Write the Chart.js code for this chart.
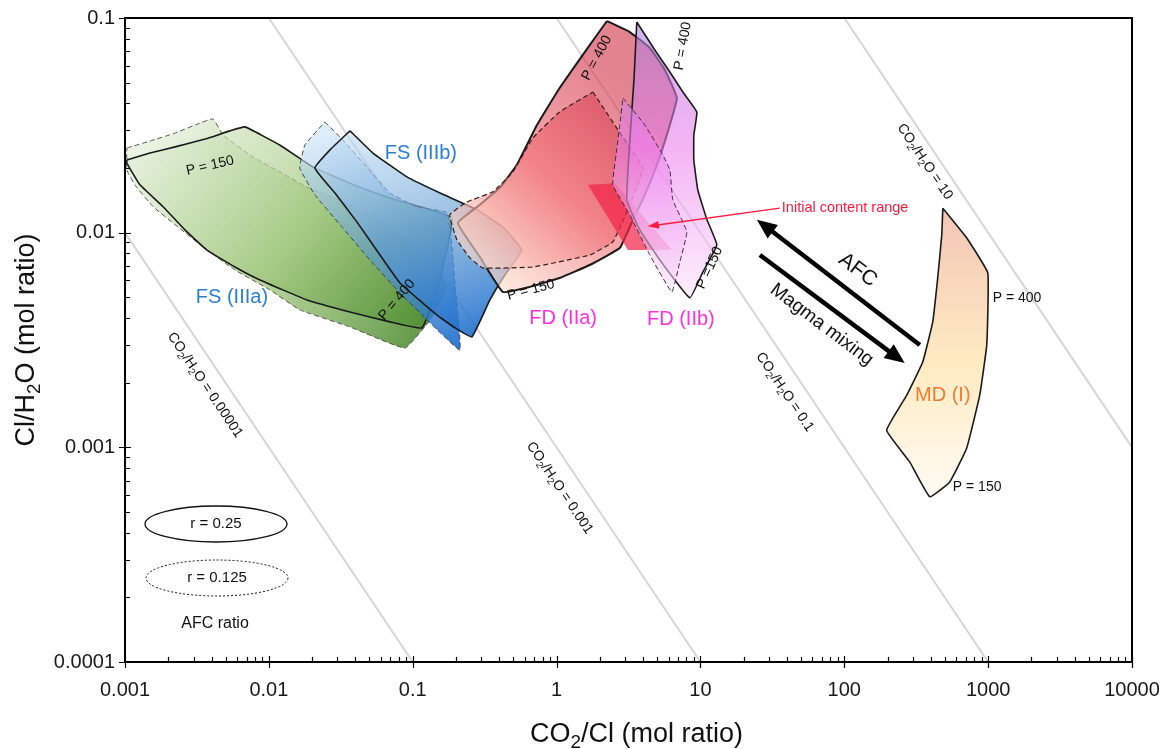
<!DOCTYPE html>
<html>
<head>
<meta charset="utf-8">
<script src="https://cdn.jsdelivr.net/npm/chart.js@4/dist/chart.umd.min.js"></script>
<style>
  html, body { margin: 0; padding: 0; background: #ffffff; }
  canvas { display: block; }
</style>
</head>
<body>
<canvas id="chart" width="1165" height="749"></canvas>
<script>
// ---- Axis ticks ----
const xTickValues = [0.001, 0.01, 0.1, 1, 10, 100, 1000, 10000];
const xTickLabels = ['0.001', '0.01', '0.1', '1', '10', '100', '1000', '10000'];
const yTickValues = [0.0001, 0.001, 0.01, 0.1];
const yTickLabels = ['0.0001', '0.001', '0.01', '0.1'];

// ---- CO2/H2O iso-ratio lines (x = CO2/Cl, y = Cl/H2O) ----
const iso00001 = [[0.001, 0.01], [0.1, 0.0001]];
const iso0001 = [[0.01, 0.1], [10, 0.0001]];
const iso01 = [[1, 0.1], [1000, 0.0001]];
const iso10 = [[100, 0.1], [10000, 0.001]];

// ---- Degassing fields, AFC ratio r = 0.25 (solid) and r = 0.125 (dashed) ----
const fsIIIa_r025 = [[0.00103,0.0218],[0.00149,0.0235],[0.00223,0.0251],[0.0036,0.0273],[0.00537,0.0298],[0.00682,0.0311],[0.0119,0.0256],[0.0203,0.0202],[0.0366,0.0170],[0.0694,0.0145],[0.132,0.0128],[0.187,0.0117],[0.173,0.0083],[0.147,0.00541],[0.116,0.0036],[0.0694,0.00384],[0.0366,0.00427],[0.0184,0.00486],[0.00867,0.00602],[0.00581,0.00692],[0.00371,0.0083],[0.00261,0.0103],[0.00184,0.0132],[0.00127,0.0167],[0.00103,0.0211]];
const fsIIIa_r0125 = [[0.00103,0.0248],[0.00149,0.0267],[0.00223,0.0291],[0.00306,0.0317],[0.00409,0.0339],[0.0048,0.0285],[0.00775,0.0225],[0.0119,0.0192],[0.0184,0.0163],[0.0366,0.0135],[0.0694,0.0109],[0.112,0.0083],[0.173,0.00559],[0.132,0.00392],[0.0883,0.0029],[0.0366,0.00364],[0.0164,0.00437],[0.0102,0.00541],[0.00581,0.0067],[0.00348,0.00858],[0.00223,0.0109],[0.00157,0.0132],[0.00117,0.0167],[0.00103,0.0196]];

const fsIIIb_r025 = [[0.0366,0.0298],[0.0529,0.0235],[0.0912,0.0182],[0.155,0.0153],[0.279,0.0128],[0.424,0.0106],[0.574,0.0083],[0.437,0.00635],[0.344,0.00486],[0.258,0.00327],[0.197,0.0036],[0.147,0.00414],[0.0815,0.00583],[0.0592,0.00787],[0.041,0.0112],[0.0288,0.0153],[0.0209,0.02],[0.0266,0.0243]];
const fsIIIb_r0125 = [[0.0245,0.0328],[0.0327,0.027],[0.048,0.0202],[0.0694,0.0153],[0.107,0.0132],[0.173,0.0124],[0.187,0.00877],[0.197,0.00571],[0.213,0.00284],[0.132,0.0038],[0.0815,0.00524],[0.0504,0.00746],[0.0312,0.0109],[0.0209,0.015],[0.0164,0.02],[0.0178,0.0256]];

const fdIIa_r025 = [[2.24,0.0968],[1.57,0.0694],[1.05,0.0472],[0.73,0.0317],[0.53,0.0207],[0.404,0.0162],[0.293,0.0135],[0.206,0.0111],[0.293,0.00771],[0.424,0.00529],[0.652,0.00559],[1.05,0.00615],[1.70,0.00707],[2.75,0.00849],[3.34,0.0112],[4.11,0.015],[4.98,0.0207],[5.84,0.0285],[6.86,0.0424],[5.66,0.0573],[4.45,0.0725],[3.23,0.086]];
const fdIIa_r0125 = [[1.79,0.0452],[2.67,0.0301],[3.98,0.02],[3.23,0.0135],[2.46,0.00905],[1.70,0.00787],[0.684,0.00692],[0.307,0.00685],[0.25,0.00763],[0.203,0.00925],[0.181,0.0121],[0.238,0.0139],[0.361,0.0155],[0.497,0.0192],[0.684,0.0276],[1.05,0.0365]];

const fdIIb_r025 = [[3.61,0.0958],[3.45,0.0514],[3.23,0.027],[3.08,0.0142],[3.79,0.0103],[5.22,0.00746],[8.44,0.00497],[10.4,0.00656],[13.0,0.00877],[11.1,0.0115],[9.59,0.0158],[9.0,0.0218],[9.0,0.0285],[9.44,0.0365],[7.55,0.0452],[6.13,0.056],[4.82,0.071]];
const fdIIb_r0125 = [[2.89,0.0424],[4.11,0.0317],[5.48,0.023],[6.13,0.0196],[6.43,0.0142],[8.05,0.0101],[7.19,0.0073],[6.33,0.00529],[4.45,0.00787],[3.23,0.0121],[2.46,0.0167],[2.62,0.0243],[2.75,0.0317]];

const mdI = [[484,0.013],[710,0.00945],[994,0.00649],[978,0.003],[874,0.00175],[710,0.000994],[541,0.00069],[393,0.000588],[285,0.000855],[197,0.0012],[272,0.00175],[351,0.0025],[412,0.00384],[446,0.00615],[476,0.00976]];

const initialRange = [[1.65,0.0167],[2.54,0.017],[6.33,0.0083],[3.13,0.0083]];

// ---- Process arrows: [tail, head] ----
const afcArrow = [[335,0.003],[24.7,0.0115]];
const mixingArrow = [[25.9,0.00787],[263,0.00247]];
const initialPointer = [[35.6,0.013],[4.31,0.0107]];

// ---- Styling / annotations ----
const FONT = '"Liberation Sans", Arial, Helvetica, sans-serif';
const FS_BLUE = '#2b7fd3';
const FD_MAGENTA = '#ff30dc';
const MD_ORANGE = '#ee7b30';

const notes = [
  {t:'FS (IIIb)', x:0.114, y:0.0235, size:20, color:FS_BLUE},
  {t:'FS (IIIa)', x:0.00554, y:0.00497, size:20, color:FS_BLUE},
  {t:'FD (IIa)', x:1.11, y:0.004, size:20, color:FD_MAGENTA},
  {t:'FD (IIb)', x:7.31, y:0.00392, size:20, color:FD_MAGENTA},
  {t:'MD (I)', x:484, y:0.00175, size:20, color:MD_ORANGE},
  {t:'P = 150', x:0.0039, y:0.0205, size:14, rot:-13},
  {t:'P = 400', x:0.0777, y:0.00486, size:14, rot:-50},
  {t:'P = 150', x:0.663, y:0.00541, size:14, rot:-15},
  {t:'P = 400', x:1.905, y:0.0651, size:14, rot:-62},
  {t:'P = 400', x:7.55, y:0.074, size:14, rot:-80},
  {t:'P =150', x:11.6, y:0.00685, size:14, rot:-65},
  {t:'P = 400', x:1076, y:0.00497, size:14, align:'left'},
  {t:'P = 150', x:568, y:0.000654, size:14, align:'left'},
  {t:'AFC', x:124, y:0.0067, size:21, rot:37},
  {t:'Magma mixing', x:69.8, y:0.00372, size:19, rot:37},
  {t:'Initial content range', x:36.8, y:0.013, size:14.5, color:'#ff1a3c', align:'left'},
  {t:'CO_2/H_2O = 0.00001', x:0.0036, y:0.00195, size:14, rot:56},
  {t:'CO_2/H_2O = 0.001', x:1.05, y:0.000647, size:14, rot:56},
  {t:'CO_2/H_2O = 0.1', x:38.6, y:0.00181, size:14, rot:56},
  {t:'CO_2/H_2O = 10', x:363, y:0.0214, size:14, rot:56}
];

function linGrad(p0, p1, stops) {
  return (c) => {
    const chart = c.chart;
    if (!chart.chartArea) return 'rgba(0,0,0,0)';
    const xs = chart.scales.x, ys = chart.scales.y;
    const g = chart.ctx.createLinearGradient(
      xs.getPixelForValue(p0[0]), ys.getPixelForValue(p0[1]),
      xs.getPixelForValue(p1[0]), ys.getPixelForValue(p1[1]));
    stops.forEach(([o, col]) => g.addColorStop(o, col));
    return g;
  };
}

const greenFill = linGrad([0.0015, 0.035], [0.15, 0.003],
  [[0, 'rgba(228,240,218,0.62)'], [0.5, 'rgba(160,200,125,0.72)'], [1, 'rgba(70,135,40,0.9)']]);
const blueFill = linGrad([0.05, 0.035], [0.2, 0.0028],
  [[0, 'rgba(200,226,247,0.6)'], [0.5, 'rgba(100,158,212,0.66)'], [1, 'rgba(20,105,205,0.9)']]);
const redFill = linGrad([0.3, 0.006], [4, 0.04],
  [[0, 'rgba(252,230,210,0.65)'], [0.5, 'rgba(240,110,118,0.62)'], [1, 'rgba(210,55,75,0.62)']]);
const magentaFill = linGrad([5, 0.095], [5, 0.005],
  [[0, 'rgba(170,130,215,0.62)'], [0.45, 'rgba(236,125,236,0.58)'], [1, 'rgba(250,226,250,0.58)']]);
const mdFill = linGrad([500, 0.013], [500, 0.0006],
  [[0, 'rgba(242,194,178,0.95)'], [0.55, 'rgba(254,234,190,0.95)'], [1, 'rgba(255,250,242,0.95)']]);

function toXY(pts) { return pts.map(p => ({x: p[0], y: p[1]})); }
function closed(pts) { return toXY(pts.concat([pts[0]])); }

function polygon(pts, o) {
  return {
    type: 'line',
    data: closed(pts),
    borderColor: o.stroke || '#1a1a1a',
    borderWidth: o.width !== undefined ? o.width : 1.6,
    borderDash: o.dash || [],
    backgroundColor: o.fill || 'rgba(0,0,0,0)',
    fill: o.fill ? 'shape' : false,
    pointRadius: 0,
    tension: o.tension !== undefined ? o.tension : 0.1,
    order: o.order
  };
}
function isoLine(pts) {
  return {
    type: 'line', data: toXY(pts), borderColor: '#d6d6d6', borderWidth: 2,
    pointRadius: 0, fill: false, order: 100
  };
}

const datasets = [
  isoLine(iso00001), isoLine(iso0001), isoLine(iso01), isoLine(iso10),
  polygon(fsIIIa_r0125, {fill: greenFill, dash: [5, 3], stroke: '#555', width: 1, order: 91}),
  polygon(fsIIIa_r025, {fill: greenFill, order: 90}),
  polygon(fsIIIb_r0125, {fill: blueFill, dash: [5, 3], stroke: '#444', width: 1, order: 81}),
  polygon(fsIIIb_r025, {fill: blueFill, order: 80}),
  polygon(fdIIa_r025, {fill: redFill, width: 2, order: 71}),
  polygon(fdIIa_r0125, {fill: redFill, dash: [5, 3], stroke: '#3a1a1a', width: 1.2, order: 70}),
  polygon(initialRange, {fill: 'rgba(243,38,72,0.72)', width: 0, stroke: 'rgba(0,0,0,0)', tension: 0, order: 65}),
  polygon(fdIIb_r025, {fill: magentaFill, order: 61}),
  polygon(fdIIb_r0125, {fill: magentaFill, dash: [5, 3], stroke: '#3a2a3a', width: 1, order: 60}),
  polygon(mdI, {fill: mdFill, order: 50})
];

function parseSub(text) {
  return text.split(/_(\d)/).map((s, i) => [s, i % 2 === 1]);
}

function richText(ctx, text, x, y, size, color, rot, align) {
  const parts = parseSub(text);
  const fnt = (s) => s + 'px ' + FONT;
  ctx.save();
  ctx.translate(x, y);
  ctx.rotate((rot || 0) * Math.PI / 180);
  let w = 0;
  parts.forEach(([t, sub]) => { ctx.font = fnt(sub ? size * 0.7 : size); w += ctx.measureText(t).width; });
  let cx = align === 'left' ? 0 : -w / 2;
  ctx.fillStyle = color;
  ctx.textBaseline = 'middle';
  ctx.textAlign = 'left';
  parts.forEach(([t, sub]) => {
    ctx.font = fnt(sub ? size * 0.7 : size);
    ctx.fillText(t, cx, sub ? size * 0.3 : 0);
    cx += ctx.measureText(t).width;
  });
  ctx.restore();
}

function drawArrow(ctx, x0, y0, x1, y1, lw, headLen, headW, color) {
  const a = Math.atan2(y1 - y0, x1 - x0);
  const bx = x1 - headLen * Math.cos(a), by = y1 - headLen * Math.sin(a);
  ctx.save();
  ctx.strokeStyle = color; ctx.fillStyle = color;
  ctx.lineWidth = lw; ctx.lineCap = 'butt';
  ctx.beginPath(); ctx.moveTo(x0, y0); ctx.lineTo(bx + Math.cos(a), by + Math.sin(a)); ctx.stroke();
  ctx.beginPath();
  ctx.moveTo(x1, y1);
  ctx.lineTo(bx + headW / 2 * Math.sin(a), by - headW / 2 * Math.cos(a));
  ctx.lineTo(bx - headW / 2 * Math.sin(a), by + headW / 2 * Math.cos(a));
  ctx.closePath(); ctx.fill();
  ctx.restore();
}

const decorations = {
  id: 'decorations',
  afterDraw(chart) {
    const ctx = chart.ctx;
    const xs = chart.scales.x, ys = chart.scales.y;
    const {left, right, top, bottom} = chart.chartArea;
    const P = (p) => [xs.getPixelForValue(p[0]), ys.getPixelForValue(p[1])];

    // frame
    ctx.save();
    ctx.strokeStyle = '#000'; ctx.lineWidth = 2;
    ctx.strokeRect(left, top, right - left, bottom - top);

    // log ticks
    ctx.lineWidth = 1.2;
    ctx.beginPath();
    for (let e = -3; e <= 4; e++) {
      for (let k = 1; k <= 9; k++) {
        const v = k * Math.pow(10, e);
        if (v > 10000 * 1.0001) break;
        const px = Math.round(xs.getPixelForValue(v)) + 0.5;
        if (k === 1) { ctx.moveTo(px, bottom + 6); ctx.lineTo(px, bottom - 6); }
        else { ctx.moveTo(px, bottom); ctx.lineTo(px, bottom - 5); }
      }
    }
    for (let e = -4; e <= -1; e++) {
      for (let k = 1; k <= 9; k++) {
        const v = k * Math.pow(10, e);
        if (v > 0.1 * 1.0001) break;
        const py = Math.round(ys.getPixelForValue(v)) + 0.5;
        if (k === 1) { ctx.moveTo(left - 6, py); ctx.lineTo(left + 6, py); }
        else { ctx.moveTo(left, py); ctx.lineTo(left + 5, py); }
      }
    }
    ctx.stroke();
    ctx.restore();

    // arrows
    let a = P(afcArrow[0]), b = P(afcArrow[1]);
    drawArrow(ctx, a[0], a[1], b[0], b[1], 4.5, 20, 17, '#000');
    a = P(mixingArrow[0]); b = P(mixingArrow[1]);
    drawArrow(ctx, a[0], a[1], b[0], b[1], 4.5, 20, 17, '#000');
    a = P(initialPointer[0]); b = P(initialPointer[1]);
    drawArrow(ctx, a[0], a[1], b[0], b[1], 1.3, 11, 8, '#ff1a3c');

    // annotations
    notes.forEach(n => {
      const p = P([n.x, n.y]);
      richText(ctx, n.t, p[0], p[1], n.size, n.color || '#111', n.rot || 0, n.align);
    });

    // AFC ratio key
    ctx.save();
    ctx.strokeStyle = '#111';
    ctx.lineWidth = 1.3;
    ctx.beginPath(); ctx.ellipse(left + 91, top + 506, 71, 18, 0, 0, Math.PI * 2); ctx.stroke();
    ctx.setLineDash([2, 2]); ctx.lineWidth = 1;
    ctx.beginPath(); ctx.ellipse(left + 92, top + 560, 71, 18, 0, 0, Math.PI * 2); ctx.stroke();
    ctx.restore();
    richText(ctx, 'r = 0.25', left + 91, top + 506, 15, '#111', 0);
    richText(ctx, 'r = 0.125', left + 92, top + 560, 15, '#111', 0);
    richText(ctx, 'AFC ratio', left + 90, top + 606, 16, '#111', 0);

    // axis titles
    richText(ctx, 'CO_2/Cl (mol ratio)', (left + right) / 2 + 8, 735, 27, '#111', 0);
    richText(ctx, 'Cl/H_2O (mol ratio)', 27, (top + bottom) / 2, 27, '#111', -90);
  }
};

new Chart(document.getElementById('chart'), {
  type: 'line',
  data: { datasets },
  options: {
    responsive: false,
    animation: false,
    devicePixelRatio: 1,
    layout: { padding: { top: 18, right: 33, left: 0, bottom: 0 } },
    plugins: { legend: { display: false }, tooltip: { enabled: false } },
    elements: { line: { borderCapStyle: 'butt', borderJoinStyle: 'miter' } },
    scales: {
      x: {
        type: 'logarithmic', min: 0.001, max: 10000,
        afterBuildTicks: (s) => { s.ticks = xTickValues.map(v => ({value: v})); },
        afterFit: (s) => { s.height = 87; s.paddingLeft = 0; s.paddingRight = 0; },
        grid: { display: false, drawTicks: false },
        border: { display: true, color: '#000', width: 2 },
        ticks: {
          callback: (v, i) => xTickLabels[i],
          autoSkip: false, maxRotation: 0, padding: 16,
          color: '#1a1a1a', font: { family: FONT, size: 20 }
        }
      },
      y: {
        type: 'logarithmic', min: 0.0001, max: 0.1,
        afterBuildTicks: (s) => { s.ticks = yTickValues.map(v => ({value: v})); },
        afterFit: (s) => { s.width = 125; s.paddingTop = 0; s.paddingBottom = 0; },
        grid: { display: false, drawTicks: false },
        border: { display: true, color: '#000', width: 2 },
        ticks: {
          callback: (v, i) => yTickLabels[i],
          autoSkip: false, padding: 10,
          color: '#1a1a1a', font: { family: FONT, size: 20 }
        }
      }
    }
  },
  plugins: [decorations]
});
</script>
</body>
</html>
